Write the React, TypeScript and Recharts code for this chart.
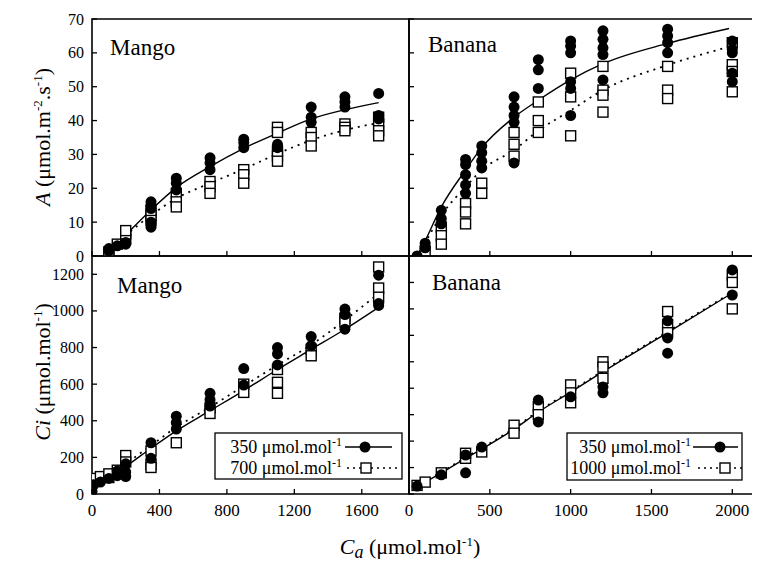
import React from "react";
import { ComposedChart, Scatter, Line, XAxis, YAxis, ReferenceArea } from "recharts";

type Pt = [number, number];

const SERIF =
  "'Liberation Serif', 'Times New Roman', Times, 'Nimbus Roman', 'Noto Serif', 'DejaVu Serif', FreeSerif, Tinos, serif";
const serifStyle = { fontFamily: SERIF };

// axis ticks
const mangoCaTicks = [0, 400, 800, 1200, 1600];
const bananaCaTicks = [0, 500, 1000, 1500, 2000];
const aTicks = [0, 10, 20, 30, 40, 50, 60, 70];
const mangoCiTicks = [0, 200, 400, 600, 800, 1000, 1200];
const bananaCiTicks = [0, 200, 400, 600, 800, 1000, 1200, 1400, 1600];

// Mango, A vs Ca  (350 = filled circles, 700 = open squares)
const mangoA350: Pt[] = [
  [100, 1.5], [100, 2.2], [150, 3], [200, 3.5], [200, 4],
  [350, 16], [350, 15], [350, 14], [350, 10], [350, 8.5],
  [500, 23], [500, 21.5], [500, 19.5],
  [700, 29], [700, 27.5], [700, 25.5],
  [900, 34.5], [900, 33.5], [900, 32],
  [1100, 33], [1100, 32],
  [1300, 44], [1300, 41], [1300, 39.5],
  [1500, 47], [1500, 45.5], [1500, 44],
  [1700, 48], [1700, 41.5], [1700, 40.5],
];
const mangoA700: Pt[] = [
  [100, 0.5], [100, 1.2], [150, 3.5], [200, 5], [200, 6.5], [200, 7.5],
  [350, 13.5], [350, 12], [350, 10.5],
  [500, 18.5], [500, 16], [500, 14.5],
  [700, 22], [700, 20.5], [700, 18.5],
  [900, 25.5], [900, 24], [900, 21.5],
  [1100, 38], [1100, 36.5], [1100, 31], [1100, 29.5], [1100, 28],
  [1300, 36.5], [1300, 35], [1300, 32.5],
  [1500, 39], [1500, 38], [1500, 37],
  [1700, 41], [1700, 39], [1700, 37], [1700, 35.5],
];
const mangoAFit350: Pt[] = [
  [80, 0], [200, 6.2], [350, 13.6], [500, 20.2], [700, 26.4], [900, 31.8],
  [1100, 36.3], [1300, 40.5], [1500, 43.2], [1700, 45.3],
];
const mangoAFit700: Pt[] = [
  [80, 0], [200, 6], [350, 12], [500, 17], [700, 21.5], [900, 25.7],
  [1100, 30.2], [1300, 34.2], [1500, 37.2], [1700, 39.3],
];

// Banana, A vs Ca  (350 = filled circles, 1000 = open squares)
const bananaA350: Pt[] = [
  [50, 0], [100, 3.8], [100, 2.4],
  [200, 13.5], [200, 11], [200, 9.5],
  [350, 28.5], [350, 27], [350, 24], [350, 21], [350, 18.5],
  [450, 32.5], [450, 30.5], [450, 28], [450, 26],
  [650, 47], [650, 44], [650, 41.5], [650, 39.5], [650, 27.5],
  [800, 58], [800, 55], [800, 49.5],
  [1000, 63.5], [1000, 62], [1000, 60], [1000, 51.5], [1000, 49.5], [1000, 41.5],
  [1200, 66.5], [1200, 64], [1200, 61.5], [1200, 59.5], [1200, 52],
  [1600, 67], [1600, 65], [1600, 63], [1600, 60],
  [2000, 63.5], [2000, 61], [2000, 60], [2000, 54], [2000, 51.5],
];
const bananaA1000: Pt[] = [
  [100, 1.5],
  [200, 8.5], [200, 6], [200, 3.5],
  [350, 15.5], [350, 13], [350, 9.5],
  [450, 21.5], [450, 18.5],
  [650, 36.5], [650, 33], [650, 29.5],
  [800, 45.5], [800, 40], [800, 36.5],
  [1000, 54], [1000, 47], [1000, 35.5],
  [1200, 56], [1200, 49], [1200, 47.5], [1200, 42.5],
  [1600, 56], [1600, 49], [1600, 46.5],
  [2000, 63], [2000, 56.5], [2000, 54.5], [2000, 48.5],
];
const bananaAFit350: Pt[] = [
  [50, 0], [100, 4.5], [200, 14.5], [350, 25.4], [450, 32], [650, 41],
  [800, 46], [1000, 52], [1200, 56.8], [1600, 62.8], [1980, 67.2],
];
const bananaAFit1000: Pt[] = [
  [50, 0], [100, 4], [200, 12], [350, 20.4], [450, 25.4], [650, 31.3],
  [800, 37], [1000, 43], [1200, 49], [1600, 56.4], [1980, 61.8],
];

// Mango, Ci vs Ca
const mangoCi350: Pt[] = [
  [0, 15], [10, 50], [50, 65], [100, 85], [150, 100], [150, 125],
  [200, 95], [200, 120], [200, 165],
  [350, 280], [350, 195],
  [500, 425], [500, 390], [500, 355],
  [700, 550], [700, 515], [700, 480],
  [900, 685], [900, 595],
  [1100, 800], [1100, 765], [1100, 705],
  [1300, 860], [1300, 810],
  [1500, 1010], [1500, 980], [1500, 900],
  [1700, 1195], [1700, 1040], [1700, 1030],
];
const mangoCi700: Pt[] = [
  [10, 85], [50, 95], [100, 90], [100, 110], [150, 130], [200, 210], [200, 175],
  [350, 235], [350, 160], [350, 145],
  [500, 280],
  [700, 470], [700, 440],
  [900, 600], [900, 555],
  [1100, 680], [1100, 610], [1100, 550],
  [1300, 790], [1300, 755],
  [1500, 960], [1500, 940],
  [1700, 1240], [1700, 1125], [1700, 1075],
];
const mangoCiFit350: Pt[] = [
  [0, 65], [100, 90], [200, 150], [350, 250], [500, 345], [700, 455],
  [900, 565], [1100, 680], [1300, 790], [1500, 900], [1700, 1020],
];
const mangoCiFit700: Pt[] = [
  [0, 70], [100, 100], [200, 165], [350, 265], [500, 365], [700, 475],
  [900, 590], [1100, 705], [1300, 815], [1500, 950], [1700, 1095],
];

// Banana, Ci vs Ca
const bananaCi350: Pt[] = [
  [50, 60], [200, 145], [350, 160], [350, 295], [450, 355],
  [800, 710], [800, 545], [1000, 735], [1200, 810], [1200, 765],
  [1600, 1310], [1600, 1180], [1600, 1065], [2000, 1695], [2000, 1505],
];
const bananaCi1000: Pt[] = [
  [50, 65], [100, 90], [200, 160], [350, 270], [350, 308], [450, 318],
  [650, 520], [650, 460], [800, 660], [800, 600],
  [1000, 825], [1000, 765], [1000, 690],
  [1200, 1000], [1200, 960], [1200, 875],
  [1600, 1380], [1600, 1280], [1600, 1220],
  [2000, 1655], [2000, 1600], [2000, 1400],
];
const bananaCiFit350: Pt[] = [
  [50, 55], [200, 160], [350, 270], [450, 340], [650, 490], [800, 620],
  [1000, 770], [1200, 925], [1600, 1220], [1980, 1505],
];
const bananaCiFit1000: Pt[] = [
  [50, 60], [200, 166], [350, 276], [450, 347], [650, 497], [800, 627],
  [1000, 777], [1200, 932], [1600, 1228], [1980, 1512],
];

const toXY = (pts: Pt[]) => pts.map(([x, y]) => ({ x, y }));

const circleShape = (p: any) => <circle cx={p.cx} cy={p.cy} r={5.5} fill="#000" />;
const squareShape = (p: any) => (
  <rect x={p.cx - 5} y={p.cy - 5} width={10} height={10} fill="#fff" stroke="#000" strokeWidth={1.4} />
);

function XTick(props: any) {
  const { x, y, payload, showLabel } = props;
  return (
    <g>
      <line x1={x} x2={x} y1={y} y2={y - 5} stroke="#000" strokeWidth={1.3} />
      {showLabel && (
        <text x={x} y={y + 22} textAnchor="middle" fontSize={17} style={serifStyle} fill="#000">
          {payload.value}
        </text>
      )}
    </g>
  );
}

function YTick(props: any) {
  const { x, y, payload, showLabel } = props;
  return (
    <g>
      <line x1={x} x2={x + 5} y1={y} y2={y} stroke="#000" strokeWidth={1.3} />
      {showLabel && (
        <text x={x - 8} y={y + 5.5} textAnchor="end" fontSize={16} style={serifStyle} fill="#000">
          {payload.value}
        </text>
      )}
    </g>
  );
}

type Box = { left: number; top: number; width: number; height: number; mt: number; yw: number; xh: number };

function Panel({
  box, xMax, yMax, xTicks, yTicks, xLabels, yLabels, circles, squares, solidFit, dottedFit,
}: {
  box: Box; xMax: number; yMax: number; xTicks: number[]; yTicks: number[];
  xLabels: boolean; yLabels: boolean; circles: Pt[]; squares: Pt[]; solidFit: Pt[]; dottedFit: Pt[];
}) {
  return (
    <div style={{ position: "absolute", left: box.left, top: box.top }}>
      <ComposedChart width={box.width} height={box.height} margin={{ top: box.mt, right: 2, bottom: 0, left: 0 }}>
        <XAxis
          type="number" dataKey="x" domain={[0, xMax]} ticks={xTicks} interval={0} allowDataOverflow
          height={box.xh} axisLine={false} tickLine={false} tickSize={0} tickMargin={0}
          tick={(p: any) => <XTick {...p} showLabel={xLabels} />}
        />
        <YAxis
          type="number" dataKey="y" domain={[0, yMax]} ticks={yTicks} interval={0} allowDataOverflow
          width={box.yw} axisLine={false} tickLine={false} tickSize={0} tickMargin={0}
          tick={(p: any) => <YTick {...p} showLabel={yLabels} />}
        />
        <ReferenceArea x1={0} x2={xMax} y1={0} y2={yMax} fill="none" stroke="#000" strokeWidth={1.6} ifOverflow="visible" />
        <Line data={toXY(solidFit)} dataKey="y" type="monotone" stroke="#000" strokeWidth={1.4} dot={false} isAnimationActive={false} />
        <Line data={toXY(dottedFit)} dataKey="y" type="monotone" stroke="#000" strokeWidth={1.8} strokeDasharray="2 5" dot={false} isAnimationActive={false} />
        <Scatter data={toXY(squares)} shape={squareShape} isAnimationActive={false} />
        <Scatter data={toXY(circles)} shape={circleShape} isAnimationActive={false} />
      </ComposedChart>
    </div>
  );
}

function LegendRow({ y, right, label, filled, x1, x2, mx, dotted }: any) {
  return (
    <g>
      <text x={right} y={y} textAnchor="end" fontSize={18}>
        {label} μmol.mol<tspan dy={-7} fontSize={12}>-1</tspan>
      </text>
      <line x1={x1} x2={x2} y1={y - 6} y2={y - 6} stroke="#000" strokeWidth={dotted ? 1.6 : 1.4} strokeDasharray={dotted ? "2 4" : undefined} />
      {filled ? (
        <circle cx={mx} cy={y - 6} r={5.5} fill="#000" />
      ) : (
        <rect x={mx - 5} y={y - 11} width={10} height={10} fill="#fff" stroke="#000" strokeWidth={1.4} />
      )}
    </g>
  );
}

export default function App() {
  const topH = 258;
  const botH = 272;
  return (
    <div style={{ position: "relative", width: 752, height: 555, overflow: "hidden", background: "#fff", fontFamily: SERIF }}>
      <Panel
        box={{ left: 0, top: 0, width: 403, height: topH, mt: 11, yw: 84, xh: 10 }}
        xMax={1880} yMax={70} xTicks={mangoCaTicks} yTicks={aTicks} xLabels={false} yLabels
        circles={mangoA350} squares={mangoA700} solidFit={mangoAFit350} dottedFit={mangoAFit700}
      />
      <Panel
        box={{ left: 391, top: 0, width: 366, height: topH, mt: 11, yw: 10, xh: 10 }}
        xMax={2190} yMax={70} xTicks={bananaCaTicks} yTicks={aTicks} xLabels={false} yLabels={false}
        circles={bananaA350} squares={bananaA1000} solidFit={bananaAFit350} dottedFit={bananaAFit1000}
      />
      <Panel
        box={{ left: 0, top: 246, width: 403, height: botH, mt: 2, yw: 84, xh: 32 }}
        xMax={1880} yMax={1300} xTicks={mangoCaTicks} yTicks={mangoCiTicks} xLabels yLabels
        circles={mangoCi350} squares={mangoCi700} solidFit={mangoCiFit350} dottedFit={mangoCiFit700}
      />
      <Panel
        box={{ left: 391, top: 246, width: 366, height: botH, mt: 2, yw: 10, xh: 32 }}
        xMax={2190} yMax={1800} xTicks={bananaCaTicks} yTicks={bananaCiTicks} xLabels yLabels={false}
        circles={bananaCi350} squares={bananaCi1000} solidFit={bananaCiFit350} dottedFit={bananaCiFit1000}
      />
      <svg width={752} height={555} style={{ position: "absolute", left: 0, top: 0, pointerEvents: "none", fontFamily: SERIF }}>
        <text x={102} y={47} fontSize={23}>Mango</text>
        <text x={420} y={44} fontSize={23}>Banana</text>
        <text x={109} y={285} fontSize={23}>Mango</text>
        <text x={424} y={282} fontSize={23}>Banana</text>

        <text transform="translate(42,129) rotate(-90)" textAnchor="middle" fontSize={22}>
          <tspan fontStyle="italic">A</tspan> (μmol.m<tspan dy={-8} fontSize={13}>-2</tspan>
          <tspan dy={8}>.s</tspan><tspan dy={-8} fontSize={13}>-1</tspan><tspan dy={8}>)</tspan>
        </text>
        <text transform="translate(42,364) rotate(-90)" textAnchor="middle" fontSize={22}>
          <tspan fontStyle="italic">Ci</tspan> (μmol.mol<tspan dy={-8} fontSize={13}>-1</tspan>
          <tspan dy={8}>)</tspan>
        </text>
        <text x={402} y={546} textAnchor="middle" fontSize={22}>
          <tspan fontStyle="italic">C</tspan>
          <tspan fontStyle="italic" dy={4} fontSize={18}>a</tspan>
          <tspan dy={-4}> (μmol.mol</tspan>
          <tspan dy={-8} fontSize={13}>-1</tspan>
          <tspan dy={8}>)</tspan>
        </text>

        <rect x={207} y={425} width={187} height={46} fill="#fff" stroke="#000" strokeWidth={1.3} />
        <LegendRow y={445} right={334} label="350" filled x1={337} x2={384} mx={357} />
        <LegendRow y={466} right={334} label="700" x1={339} x2={392} mx={358} dotted />

        <rect x={559} y={425} width={175} height={47} fill="#fff" stroke="#000" strokeWidth={1.3} />
        <LegendRow y={445} right={683} label="350" filled x1={685} x2={730} mx={712} />
        <LegendRow y={466} right={683} label="1000" x1={690} x2={734} mx={717} dotted />
      </svg>
    </div>
  );
}
